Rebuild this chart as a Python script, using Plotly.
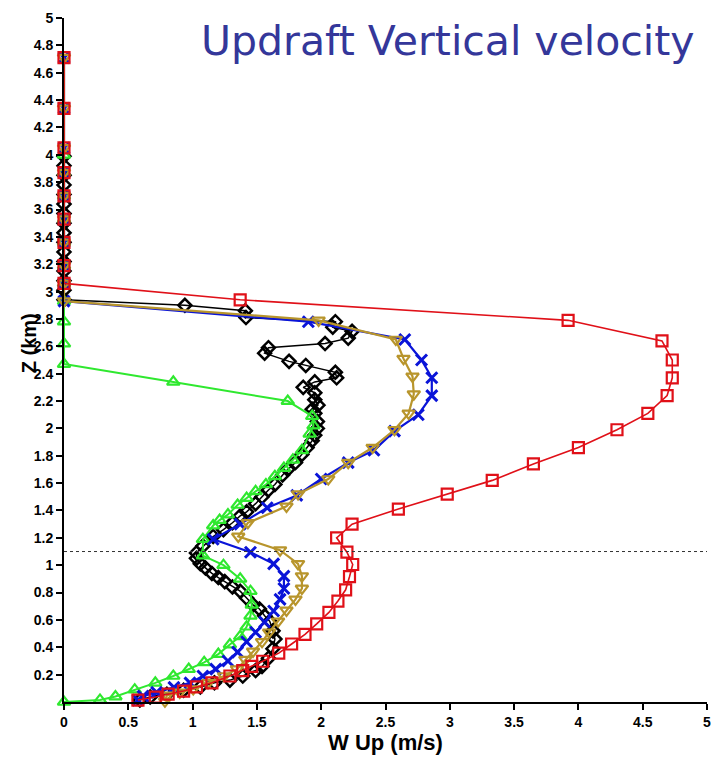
import plotly.graph_objects as go

# ---------------- data (W in m/s, Z in km) ----------------
top_levels = [4.71, 4.34, 4.05, 3.87, 3.70, 3.53, 3.36, 3.19, 3.06]

red_w = [0]*9 + [1.37, 3.92, 4.65, 4.73, 4.73, 4.69, 4.54, 4.30, 4.00, 3.65, 3.33, 2.98, 2.60,
                 2.24, 2.12, 2.20, 2.245, 2.22, 2.19, 2.13, 2.06, 1.965, 1.874, 1.77, 1.67, 1.545,
                 1.46, 1.39, 1.29, 1.15, 1.03, 0.93, 0.81, 0.71, 0.575]
red_z = top_levels + [2.94, 2.79, 2.64, 2.50, 2.37, 2.24, 2.11, 1.99, 1.86, 1.74, 1.62, 1.52, 1.41,
                      1.30, 1.20, 1.095, 1.005, 0.916, 0.82, 0.738, 0.655, 0.571, 0.495, 0.424, 0.357, 0.298,
                      0.26, 0.23, 0.19, 0.14, 0.11, 0.08, 0.057, 0.036, 0.014]

blue_w = [0]*10 + [1.90, 2.65, 2.78, 2.86, 2.86, 2.755, 2.57, 2.41, 2.21, 2.00, 1.81, 1.58, 1.37,
                   1.16, 1.45, 1.63, 1.71, 1.71, 1.68, 1.63, 1.56, 1.49, 1.42, 1.35, 1.275, 1.18,
                   1.08, 0.98, 0.855, 0.72, 0.615, 0.575]
blue_z = top_levels + [2.93] + [2.78, 2.65, 2.50, 2.37, 2.24, 2.10, 1.98, 1.84, 1.75, 1.63, 1.51, 1.42, 1.30,
                               1.19, 1.095, 1.01, 0.92, 0.83, 0.75, 0.665, 0.585, 0.51, 0.44, 0.365, 0.30, 0.24,
                               0.19, 0.14, 0.107, 0.07, 0.043, 0.014]

gold_w = [0]*10 + [1.98, 2.58, 2.64, 2.71, 2.72, 2.68, 2.57, 2.40, 2.21, 2.055, 1.82, 1.73, 1.43,
                   1.355, 1.68, 1.82, 1.85, 1.85, 1.80, 1.73, 1.665, 1.595, 1.54, 1.47, 1.41, 1.345,
                   1.245, 1.12, 1.005, 0.90, 0.80, 0.785]
gold_z = top_levels + [2.93] + [2.79, 2.65, 2.51, 2.38, 2.25, 2.11, 1.99, 1.86, 1.75, 1.63, 1.52, 1.43, 1.31,
                               1.21, 1.11, 1.01, 0.92, 0.83, 0.75, 0.67, 0.59, 0.51, 0.44, 0.37, 0.31, 0.24,
                               0.19, 0.14, 0.095, 0.07, 0.048, 0.005]

black_w = [0]*16 + [0.94, 1.41, 1.415, 2.11, 2.09, 2.24, 2.21, 2.03, 1.59, 1.56, 1.75, 1.88, 2.11, 2.12,
                    1.95, 1.86, 1.95, 1.95, 1.975, 1.93, 1.95, 1.97, 1.97, 1.95, 1.93, 1.89, 1.85, 1.80,
                    1.74, 1.70, 1.64, 1.59, 1.54, 1.49, 1.42, 1.37, 1.31, 1.24, 1.16, 1.08, 1.03, 1.03,
                    1.06, 1.10, 1.15, 1.20, 1.25, 1.31, 1.37, 1.42, 1.47, 1.52, 1.56, 1.60, 1.625, 1.64,
                    1.625, 1.59, 1.54, 1.49, 1.39, 1.29, 1.17, 1.06, 0.93, 0.80, 0.67, 0.59]
black_z = [3.99, 3.92, 3.85, 3.78, 3.71, 3.64, 3.57, 3.50, 3.43, 3.36, 3.29, 3.22, 3.15, 3.08, 3.01, 2.94] + \
          [2.90, 2.86, 2.81, 2.78, 2.74, 2.71, 2.66, 2.62, 2.59, 2.55, 2.49, 2.46, 2.41, 2.37,
           2.34, 2.30, 2.26, 2.21, 2.17, 2.14, 2.11, 2.05, 2.00, 1.95, 1.91, 1.86, 1.81, 1.75,
           1.70, 1.66, 1.59, 1.55, 1.50, 1.45, 1.39, 1.36, 1.31, 1.26, 1.21, 1.14, 1.09, 1.05,
           1.01, 0.98, 0.94, 0.91, 0.88, 0.84, 0.81, 0.76, 0.71, 0.68, 0.63, 0.59, 0.52, 0.46,
           0.39, 0.32, 0.26, 0.23, 0.19, 0.16, 0.14, 0.11, 0.086, 0.057, 0.036, 0.014]

green_w = [0]*11 + [0.85, 1.74, 1.93, 1.94, 1.91, 1.85, 1.78, 1.71, 1.64, 1.57, 1.49, 1.42, 1.35, 1.275,
                    1.21, 1.16, 1.08, 1.08, 1.24, 1.37, 1.45, 1.46, 1.45, 1.42, 1.37, 1.29, 1.20, 1.09,
                    0.97, 0.85, 0.71, 0.55, 0.40, 0.28, 0.0]
green_z = [4.00, 3.87, 3.70, 3.53, 3.36, 3.19, 3.06, 2.93, 2.78, 2.62, 2.47] + \
          [2.34, 2.20, 2.09, 2.02, 1.96, 1.84, 1.77, 1.71, 1.65, 1.59, 1.54, 1.49, 1.44, 1.37,
           1.33, 1.29, 1.19, 1.07, 1.00, 0.90, 0.81, 0.71, 0.63, 0.55, 0.48, 0.42, 0.35, 0.29,
           0.24, 0.19, 0.14, 0.09, 0.04, 0.015, 0.0]

ref_level = 1.1
x_ticks = [0, 0.5, 1, 1.5, 2, 2.5, 3, 3.5, 4, 4.5, 5]
x_tick_text = ["0", "0.5", "1", "1.5", "2", "2.5", "3", "3.5", "4", "4.5", "5"]
y_ticks = [0.2, 0.4, 0.6, 0.8, 1, 1.2, 1.4, 1.6, 1.8, 2, 2.2, 2.4, 2.6, 2.8, 3, 3.2, 3.4, 3.6, 3.8, 4,
           4.2, 4.4, 4.6, 4.8, 5]
y_tick_text = ["0.2", "0.4", "0.6", "0.8", "1", "1.2", "1.4", "1.6", "1.8", "2", "2.2", "2.4", "2.6",
               "2.8", "3", "3.2", "3.4", "3.6", "3.8", "4", "4.2", "4.4", "4.6", "4.8", "5"]

# ---------------- figure ----------------
fig = go.Figure()

def add(w, z, color, symbol, size, lw, mlw):
    fig.add_trace(go.Scatter(
        x=w, y=z, mode="lines+markers",
        line=dict(color=color, width=lw),
        marker=dict(symbol=symbol, size=size, color=color, line=dict(color=color, width=mlw)),
        showlegend=False, cliponaxis=False))

add(black_w, black_z, "#000000", "diamond-open", 10, 1.5, 2.5)
add(green_w, green_z, "#2fe82f", "triangle-up-open", 11, 2, 2.2)
add(blue_w, blue_z, "#0a14d8", "x-thin-open", 11, 2.2, 3)
add(gold_w, gold_z, "#b8952c", "triangle-down-open", 11, 2.2, 2.2)
add(red_w, red_z, "#e01018", "square-open", 11, 1.6, 2.2)

fig.add_shape(type="line", xref="x", yref="y", x0=0, x1=5, y0=ref_level, y1=ref_level,
              line=dict(color="#333333", width=1, dash="dot"))

tickfont = dict(family="Liberation Sans, Arial, sans-serif", size=14, color="black", weight="bold")

fig.update_layout(
    width=722, height=757,
    margin=dict(l=64, r=15, t=10, b=47),
    paper_bgcolor="white", plot_bgcolor="white",
    xaxis=dict(range=[0, 5], tickvals=x_ticks, ticktext=x_tick_text, showgrid=False, zeroline=False,
               showline=True, linecolor="black", linewidth=2, ticks="outside", ticklen=6,
               tickwidth=2, tickcolor="black", tickfont=tickfont,
               title=dict(text="W Up (m/s)", standoff=2,
                          font=dict(family="Liberation Sans, Arial, sans-serif", size=22,
                                    color="black", weight="bold"))),
    yaxis=dict(range=[0, 5], tickvals=y_ticks, ticktext=y_tick_text, showgrid=False, zeroline=False,
               showline=True, linecolor="black", linewidth=2, ticks="outside", ticklen=6,
               tickwidth=2, tickcolor="black", tickfont=tickfont),
)

fig.add_annotation(text="Z (km)", xref="paper", yref="y", x=-0.055, y=2.62, showarrow=False,
                   textangle=-90, xanchor="center", yanchor="middle",
                   font=dict(family="Liberation Sans, Arial, sans-serif", size=20, color="black",
                             weight="bold"))

fig.add_annotation(text="Updraft Vertical velocity", xref="paper", yref="paper", x=0.985, y=0.966,
                   xanchor="right", yanchor="middle", showarrow=False,
                   font=dict(family="DejaVu Sans, sans-serif", size=41, color="#34379a"))

fig.write_html("out.html")
